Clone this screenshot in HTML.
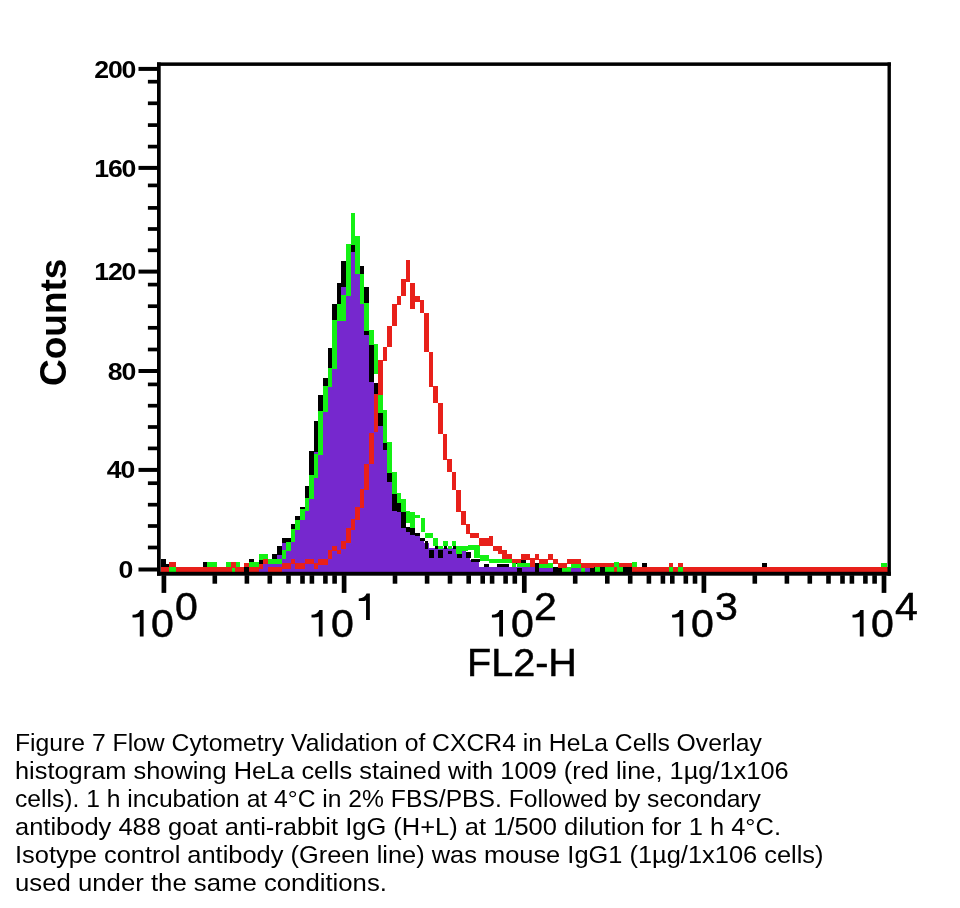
<!DOCTYPE html>
<html><head><meta charset="utf-8"><style>
*{margin:0;padding:0;box-sizing:border-box}
html,body{width:960px;height:908px;background:#fff;overflow:hidden}
body{position:relative;font-family:"Liberation Sans",sans-serif;color:#000}
svg{position:absolute;left:0;top:0}
.yl{position:absolute;filter:grayscale(1);right:824.5px;font-weight:bold;font-size:23.6px;line-height:28px;height:28px;white-space:nowrap;letter-spacing:-1.1px;transform-origin:100% 50%;transform:scaleX(1.13)}
.xg{position:absolute;font-size:38.4px;line-height:44px;white-space:nowrap;transform-origin:0 0;transform:scaleX(1.07);filter:grayscale(1);-webkit-text-stroke:0.5px #000}
.counts{position:absolute;left:35px;top:386.2px;filter:grayscale(1);transform-origin:0 0;transform:rotate(-90deg);font-weight:bold;font-size:37px;line-height:1;white-space:nowrap}
.fl2{position:absolute;left:467px;top:640.9px;font-size:38.4px;line-height:44px;white-space:nowrap;transform-origin:0 0;transform:scaleX(1.03);filter:grayscale(1);-webkit-text-stroke:0.5px #000}
.cap{position:absolute;font-size:24.2px;filter:grayscale(1);line-height:28px;white-space:nowrap;transform-origin:0 0}
</style></head><body>
<svg width="960" height="908" viewBox="0 0 960 908">
<rect x="161" y="567" width="727" height="5" fill="#000"/>
<rect x="259" y="564" width="4" height="8" fill="#7628CE"/>
<rect x="263" y="564" width="5" height="8" fill="#7628CE"/>
<rect x="268" y="562" width="4" height="10" fill="#7628CE"/>
<rect x="272" y="556" width="5" height="16" fill="#7628CE"/>
<rect x="277" y="548" width="5" height="24" fill="#7628CE"/>
<rect x="282" y="540" width="4" height="32" fill="#7628CE"/>
<rect x="286" y="540" width="5" height="32" fill="#7628CE"/>
<rect x="291" y="526" width="4" height="46" fill="#7628CE"/>
<rect x="295" y="518" width="5" height="54" fill="#7628CE"/>
<rect x="300" y="509" width="5" height="63" fill="#7628CE"/>
<rect x="305" y="490" width="4" height="82" fill="#7628CE"/>
<rect x="309" y="453" width="5" height="119" fill="#7628CE"/>
<rect x="314" y="423" width="4" height="149" fill="#7628CE"/>
<rect x="318" y="397" width="5" height="175" fill="#7628CE"/>
<rect x="323" y="380" width="5" height="192" fill="#7628CE"/>
<rect x="328" y="350" width="4" height="222" fill="#7628CE"/>
<rect x="332" y="306" width="5" height="266" fill="#7628CE"/>
<rect x="337" y="285" width="4" height="287" fill="#7628CE"/>
<rect x="341" y="263" width="5" height="309" fill="#7628CE"/>
<rect x="346" y="252" width="5" height="320" fill="#7628CE"/>
<rect x="351" y="246" width="4" height="326" fill="#7628CE"/>
<rect x="355" y="270" width="5" height="302" fill="#7628CE"/>
<rect x="360" y="268" width="4" height="304" fill="#7628CE"/>
<rect x="364" y="289" width="5" height="283" fill="#7628CE"/>
<rect x="369" y="336" width="5" height="236" fill="#7628CE"/>
<rect x="374" y="385" width="4" height="187" fill="#7628CE"/>
<rect x="378" y="414" width="5" height="158" fill="#7628CE"/>
<rect x="383" y="444" width="4" height="128" fill="#7628CE"/>
<rect x="387" y="473" width="5" height="99" fill="#7628CE"/>
<rect x="392" y="495" width="5" height="77" fill="#7628CE"/>
<rect x="397" y="503" width="4" height="69" fill="#7628CE"/>
<rect x="401" y="512" width="5" height="60" fill="#7628CE"/>
<rect x="406" y="529" width="4" height="43" fill="#7628CE"/>
<rect x="410" y="531" width="5" height="41" fill="#7628CE"/>
<rect x="415" y="535" width="5" height="37" fill="#7628CE"/>
<rect x="420" y="539" width="4" height="33" fill="#7628CE"/>
<rect x="424" y="543" width="5" height="29" fill="#7628CE"/>
<rect x="429" y="548" width="4" height="24" fill="#7628CE"/>
<rect x="433" y="548" width="5" height="24" fill="#7628CE"/>
<rect x="438" y="548" width="5" height="24" fill="#7628CE"/>
<rect x="443" y="548" width="4" height="24" fill="#7628CE"/>
<rect x="447" y="548" width="5" height="24" fill="#7628CE"/>
<rect x="452" y="548" width="4" height="24" fill="#7628CE"/>
<rect x="456" y="548" width="5" height="24" fill="#7628CE"/>
<rect x="461" y="548" width="5" height="24" fill="#7628CE"/>
<rect x="466" y="552" width="4" height="20" fill="#7628CE"/>
<rect x="470" y="560" width="5" height="12" fill="#7628CE"/>
<rect x="475" y="560" width="4" height="12" fill="#7628CE"/>
<rect x="479" y="567" width="5" height="5" fill="#7628CE"/>
<rect x="484" y="567" width="5" height="5" fill="#7628CE"/>
<rect x="489" y="567" width="4" height="5" fill="#7628CE"/>
<rect x="493" y="567" width="5" height="5" fill="#7628CE"/>
<rect x="498" y="567" width="4" height="5" fill="#7628CE"/>
<rect x="502" y="567" width="5" height="5" fill="#7628CE"/>
<rect x="507" y="567" width="5" height="5" fill="#7628CE"/>
<rect x="512" y="567" width="4" height="5" fill="#7628CE"/>
<rect x="516" y="567" width="5" height="5" fill="#7628CE"/>
<rect x="521" y="567" width="4" height="5" fill="#7628CE"/>
<rect x="525" y="567" width="5" height="5" fill="#7628CE"/>
<rect x="530" y="567" width="5" height="5" fill="#7628CE"/>
<rect x="539" y="567" width="5" height="5" fill="#7628CE"/>
<rect x="544" y="567" width="4" height="5" fill="#7628CE"/>
<rect x="548" y="567" width="5" height="5" fill="#7628CE"/>
<rect x="571" y="567" width="5" height="5" fill="#7628CE"/>
<rect x="576" y="567" width="5" height="5" fill="#7628CE"/>
<rect x="585" y="567" width="5" height="5" fill="#7628CE"/>
<rect x="245" y="568" width="4" height="4" fill="#000"/>
<rect x="249" y="559" width="5" height="5" fill="#000"/>
<rect x="259" y="559" width="4" height="5" fill="#000"/>
<rect x="272" y="554" width="5" height="5" fill="#000"/>
<rect x="277" y="546" width="5" height="9" fill="#000"/>
<rect x="282" y="538" width="9" height="5" fill="#000"/>
<rect x="291" y="524" width="4" height="6" fill="#000"/>
<rect x="295" y="516" width="5" height="5" fill="#000"/>
<rect x="300" y="507" width="5" height="4" fill="#000"/>
<rect x="305" y="486" width="4" height="13" fill="#000"/>
<rect x="309" y="451" width="5" height="25" fill="#000"/>
<rect x="314" y="421" width="4" height="31" fill="#000"/>
<rect x="318" y="395" width="5" height="17" fill="#000"/>
<rect x="323" y="378" width="5" height="9" fill="#000"/>
<rect x="328" y="348" width="4" height="21" fill="#000"/>
<rect x="332" y="304" width="5" height="17" fill="#000"/>
<rect x="337" y="283" width="4" height="21" fill="#000"/>
<rect x="341" y="261" width="5" height="26" fill="#000"/>
<rect x="346" y="250" width="5" height="6" fill="#000"/>
<rect x="351" y="244" width="4" height="8" fill="#000"/>
<rect x="355" y="268" width="5" height="6" fill="#000"/>
<rect x="360" y="266" width="4" height="8" fill="#000"/>
<rect x="364" y="287" width="5" height="48" fill="#000"/>
<rect x="369" y="334" width="5" height="48" fill="#000"/>
<rect x="374" y="383" width="4" height="12" fill="#000"/>
<rect x="378" y="412" width="5" height="14" fill="#000"/>
<rect x="383" y="442" width="4" height="8" fill="#000"/>
<rect x="387" y="471" width="5" height="11" fill="#000"/>
<rect x="392" y="493" width="5" height="18" fill="#000"/>
<rect x="397" y="501" width="4" height="11" fill="#000"/>
<rect x="401" y="510" width="5" height="18" fill="#000"/>
<rect x="406" y="527" width="4" height="5" fill="#000"/>
<rect x="410" y="528" width="5" height="7" fill="#000"/>
<rect x="415" y="533" width="5" height="3" fill="#000"/>
<rect x="420" y="538" width="5" height="3" fill="#000"/>
<rect x="425" y="541" width="3" height="8" fill="#000"/>
<rect x="429" y="550" width="5" height="8" fill="#000"/>
<rect x="435" y="546" width="3" height="3" fill="#000"/>
<rect x="438" y="550" width="5" height="8" fill="#000"/>
<rect x="444" y="546" width="3" height="3" fill="#000"/>
<rect x="448" y="551" width="4" height="3" fill="#000"/>
<rect x="453" y="546" width="3" height="3" fill="#000"/>
<rect x="457" y="554" width="5" height="4" fill="#000"/>
<rect x="462" y="546" width="4" height="3" fill="#000"/>
<rect x="466" y="552" width="5" height="6" fill="#000"/>
<rect x="471" y="559" width="9" height="3" fill="#000"/>
<rect x="484" y="564" width="5" height="3" fill="#000"/>
<rect x="497" y="564" width="12" height="3" fill="#000"/>
<rect x="513" y="560" width="13" height="4" fill="#000"/>
<rect x="517" y="568" width="5" height="4" fill="#000"/>
<rect x="535" y="563" width="4" height="9" fill="#000"/>
<rect x="553" y="567" width="9" height="5" fill="#000"/>
<rect x="161" y="559" width="5" height="5" fill="#000"/>
<rect x="161" y="564" width="8" height="3" fill="#000"/>
<rect x="203" y="562" width="4" height="5" fill="#000"/>
<rect x="249" y="559" width="5" height="3" fill="#000"/>
<rect x="245" y="568" width="4" height="4" fill="#000"/>
<rect x="642" y="563" width="5" height="4" fill="#000"/>
<rect x="762" y="563" width="5" height="4" fill="#000"/>
<rect x="623" y="567" width="9" height="5" fill="#000"/>
<rect x="208" y="562" width="9" height="6" fill="#14F014"/>
<rect x="226" y="562" width="14" height="6" fill="#14F014"/>
<rect x="249" y="562" width="10" height="7" fill="#14F014"/>
<rect x="259" y="554" width="9" height="6" fill="#14F014"/>
<rect x="268" y="559" width="14" height="5" fill="#14F014"/>
<rect x="282" y="550" width="4" height="9" fill="#14F014"/>
<rect x="286" y="542" width="5" height="9" fill="#14F014"/>
<rect x="291" y="529" width="4" height="13" fill="#14F014"/>
<rect x="295" y="520" width="5" height="10" fill="#14F014"/>
<rect x="300" y="509" width="5" height="11" fill="#14F014"/>
<rect x="305" y="498" width="4" height="13" fill="#14F014"/>
<rect x="309" y="475" width="5" height="24" fill="#14F014"/>
<rect x="314" y="454" width="4" height="24" fill="#14F014"/>
<rect x="318" y="411" width="5" height="44" fill="#14F014"/>
<rect x="323" y="386" width="5" height="26" fill="#14F014"/>
<rect x="328" y="368" width="4" height="19" fill="#14F014"/>
<rect x="332" y="320" width="5" height="49" fill="#14F014"/>
<rect x="337" y="304" width="4" height="17" fill="#14F014"/>
<rect x="341" y="295" width="5" height="26" fill="#14F014"/>
<rect x="346" y="244" width="5" height="52" fill="#14F014"/>
<rect x="351" y="213" width="4" height="32" fill="#14F014"/>
<rect x="355" y="236" width="5" height="38" fill="#14F014"/>
<rect x="360" y="274" width="4" height="30" fill="#14F014"/>
<rect x="364" y="303" width="5" height="28" fill="#14F014"/>
<rect x="369" y="330" width="5" height="15" fill="#14F014"/>
<rect x="374" y="344" width="4" height="30" fill="#14F014"/>
<rect x="378" y="373" width="5" height="40" fill="#14F014"/>
<rect x="383" y="410" width="4" height="33" fill="#14F014"/>
<rect x="387" y="442" width="5" height="31" fill="#14F014"/>
<rect x="392" y="472" width="5" height="22" fill="#14F014"/>
<rect x="397" y="493" width="4" height="10" fill="#14F014"/>
<rect x="401" y="499" width="5" height="13" fill="#14F014"/>
<rect x="406" y="511" width="4" height="12" fill="#14F014"/>
<rect x="539" y="563" width="14" height="5" fill="#14F014"/>
<rect x="562" y="567" width="9" height="6" fill="#14F014"/>
<rect x="571" y="563" width="10" height="5" fill="#14F014"/>
<rect x="581" y="567" width="4" height="6" fill="#14F014"/>
<rect x="410" y="512" width="5" height="16" fill="#14F014"/>
<rect x="415" y="515" width="5" height="3" fill="#14F014"/>
<rect x="421" y="518" width="4" height="14" fill="#14F014"/>
<rect x="425" y="533" width="8" height="5" fill="#14F014"/>
<rect x="433" y="538" width="5" height="8" fill="#14F014"/>
<rect x="438" y="546" width="5" height="3" fill="#14F014"/>
<rect x="443" y="541" width="5" height="5" fill="#14F014"/>
<rect x="448" y="546" width="4" height="3" fill="#14F014"/>
<rect x="452" y="541" width="4" height="5" fill="#14F014"/>
<rect x="456" y="546" width="6" height="8" fill="#14F014"/>
<rect x="462" y="546" width="6" height="5" fill="#14F014"/>
<rect x="468" y="545" width="6" height="5" fill="#14F014"/>
<rect x="474" y="545" width="6" height="13" fill="#14F014"/>
<rect x="480" y="555" width="9" height="6" fill="#14F014"/>
<rect x="489" y="559" width="23" height="4" fill="#14F014"/>
<rect x="512" y="563" width="4" height="4" fill="#14F014"/>
<rect x="517" y="563" width="13" height="4" fill="#14F014"/>
<rect x="539" y="563" width="14" height="4" fill="#14F014"/>
<rect x="562" y="567" width="9" height="5" fill="#14F014"/>
<rect x="571" y="563" width="10" height="4" fill="#14F014"/>
<rect x="581" y="567" width="4" height="5" fill="#14F014"/>
<rect x="169" y="567" width="7" height="5" fill="#14F014"/>
<rect x="207" y="562" width="10" height="5" fill="#14F014"/>
<rect x="226" y="563" width="13" height="4" fill="#14F014"/>
<rect x="231" y="567" width="4" height="5" fill="#14F014"/>
<rect x="614" y="563" width="4" height="4" fill="#14F014"/>
<rect x="632" y="563" width="5" height="4" fill="#14F014"/>
<rect x="595" y="567" width="5" height="5" fill="#14F014"/>
<rect x="605" y="567" width="9" height="5" fill="#14F014"/>
<rect x="617" y="567" width="6" height="5" fill="#14F014"/>
<rect x="669" y="567" width="5" height="5" fill="#14F014"/>
<rect x="678" y="567" width="6" height="5" fill="#14F014"/>
<rect x="881" y="563" width="6" height="4" fill="#14F014"/>
<rect x="231" y="562" width="5" height="6" fill="#E8201A"/>
<rect x="259" y="564" width="4" height="5" fill="#E8201A"/>
<rect x="263" y="559" width="5" height="5" fill="#E8201A"/>
<rect x="282" y="563" width="9" height="6" fill="#E8201A"/>
<rect x="291" y="559" width="4" height="5" fill="#E8201A"/>
<rect x="295" y="563" width="10" height="6" fill="#E8201A"/>
<rect x="305" y="559" width="9" height="5" fill="#E8201A"/>
<rect x="314" y="563" width="4" height="6" fill="#E8201A"/>
<rect x="318" y="559" width="10" height="6" fill="#E8201A"/>
<rect x="328" y="550" width="4" height="9" fill="#E8201A"/>
<rect x="332" y="546" width="5" height="5" fill="#E8201A"/>
<rect x="337" y="550" width="4" height="4" fill="#E8201A"/>
<rect x="341" y="541" width="5" height="8" fill="#E8201A"/>
<rect x="346" y="528" width="5" height="15" fill="#E8201A"/>
<rect x="351" y="519" width="4" height="11" fill="#E8201A"/>
<rect x="355" y="507" width="5" height="13" fill="#E8201A"/>
<rect x="360" y="489" width="4" height="19" fill="#E8201A"/>
<rect x="364" y="464" width="5" height="26" fill="#E8201A"/>
<rect x="369" y="433" width="5" height="31" fill="#E8201A"/>
<rect x="374" y="394" width="4" height="38" fill="#E8201A"/>
<rect x="378" y="360" width="5" height="35" fill="#E8201A"/>
<rect x="383" y="347" width="4" height="14" fill="#E8201A"/>
<rect x="387" y="326" width="5" height="21" fill="#E8201A"/>
<rect x="392" y="304" width="5" height="22" fill="#E8201A"/>
<rect x="397" y="296" width="4" height="9" fill="#E8201A"/>
<rect x="401" y="279" width="5" height="17" fill="#E8201A"/>
<rect x="406" y="260" width="4" height="22" fill="#E8201A"/>
<rect x="410" y="283" width="5" height="26" fill="#E8201A"/>
<rect x="415" y="296" width="5" height="6" fill="#E8201A"/>
<rect x="420" y="300" width="4" height="13" fill="#E8201A"/>
<rect x="424" y="313" width="5" height="39" fill="#E8201A"/>
<rect x="429" y="352" width="4" height="35" fill="#E8201A"/>
<rect x="433" y="386" width="5" height="17" fill="#E8201A"/>
<rect x="438" y="403" width="5" height="31" fill="#E8201A"/>
<rect x="443" y="434" width="4" height="26" fill="#E8201A"/>
<rect x="447" y="459" width="5" height="13" fill="#E8201A"/>
<rect x="452" y="472" width="4" height="18" fill="#E8201A"/>
<rect x="456" y="490" width="5" height="22" fill="#E8201A"/>
<rect x="461" y="511" width="5" height="14" fill="#E8201A"/>
<rect x="466" y="524" width="4" height="10" fill="#E8201A"/>
<rect x="470" y="533" width="9" height="5" fill="#E8201A"/>
<rect x="479" y="538" width="10" height="8" fill="#E8201A"/>
<rect x="489" y="536" width="4" height="10" fill="#E8201A"/>
<rect x="493" y="546" width="5" height="5" fill="#E8201A"/>
<rect x="498" y="546" width="4" height="8" fill="#E8201A"/>
<rect x="502" y="550" width="5" height="9" fill="#E8201A"/>
<rect x="507" y="554" width="5" height="5" fill="#E8201A"/>
<rect x="512" y="559" width="9" height="4" fill="#E8201A"/>
<rect x="521" y="554" width="9" height="6" fill="#E8201A"/>
<rect x="530" y="558" width="5" height="9" fill="#E8201A"/>
<rect x="535" y="554" width="4" height="6" fill="#E8201A"/>
<rect x="539" y="559" width="9" height="5" fill="#E8201A"/>
<rect x="548" y="554" width="5" height="6" fill="#E8201A"/>
<rect x="553" y="559" width="5" height="5" fill="#E8201A"/>
<rect x="558" y="563" width="9" height="5" fill="#E8201A"/>
<rect x="567" y="559" width="14" height="5" fill="#E8201A"/>
<rect x="581" y="563" width="13" height="5" fill="#E8201A"/>
<rect x="161" y="567" width="8" height="5" fill="#E8201A"/>
<rect x="176" y="567" width="56" height="5" fill="#E8201A"/>
<rect x="235" y="567" width="9" height="5" fill="#E8201A"/>
<rect x="249" y="567" width="10" height="5" fill="#E8201A"/>
<rect x="268" y="567" width="14" height="5" fill="#E8201A"/>
<rect x="169" y="562" width="7" height="5" fill="#E8201A"/>
<rect x="232" y="563" width="3" height="4" fill="#E8201A"/>
<rect x="244" y="563" width="5" height="4" fill="#E8201A"/>
<rect x="594" y="563" width="38" height="4" fill="#E8201A"/>
<rect x="632" y="567" width="37" height="5" fill="#E8201A"/>
<rect x="614" y="567" width="3" height="5" fill="#E8201A"/>
<rect x="669" y="563" width="4" height="4" fill="#E8201A"/>
<rect x="673" y="567" width="5" height="5" fill="#E8201A"/>
<rect x="678" y="563" width="5" height="4" fill="#E8201A"/>
<rect x="683" y="567" width="205" height="5" fill="#E8201A"/>
<rect x="614" y="562" width="5" height="5" fill="#14F014"/>
<rect x="632" y="562" width="5" height="5" fill="#14F014"/>
<rect x="157.00" y="62.40" width="733.90" height="3.50" fill="#000"/>
<rect x="157.00" y="62.40" width="3.70" height="513.30" fill="#000"/>
<rect x="887.50" y="62.40" width="3.40" height="513.30" fill="#000"/>
<rect x="157.00" y="571.80" width="733.90" height="3.90" fill="#000"/>
<rect x="138.50" y="66.90" width="19.00" height="4.00" fill="#000"/>
<rect x="138.50" y="165.90" width="19.00" height="4.00" fill="#000"/>
<rect x="138.50" y="269.60" width="19.00" height="4.00" fill="#000"/>
<rect x="138.50" y="369.00" width="19.00" height="4.00" fill="#000"/>
<rect x="138.50" y="467.90" width="19.00" height="4.00" fill="#000"/>
<rect x="138.50" y="567.50" width="19.00" height="4.00" fill="#000"/>
<rect x="147.90" y="79.85" width="9.60" height="3.70" fill="#000"/>
<rect x="147.90" y="101.45" width="9.60" height="3.70" fill="#000"/>
<rect x="147.90" y="123.25" width="9.60" height="3.70" fill="#000"/>
<rect x="147.90" y="144.75" width="9.60" height="3.70" fill="#000"/>
<rect x="147.90" y="183.55" width="9.60" height="3.70" fill="#000"/>
<rect x="147.90" y="206.05" width="9.60" height="3.70" fill="#000"/>
<rect x="147.90" y="227.15" width="9.60" height="3.70" fill="#000"/>
<rect x="147.90" y="248.45" width="9.60" height="3.70" fill="#000"/>
<rect x="147.90" y="282.75" width="9.60" height="3.70" fill="#000"/>
<rect x="147.90" y="304.35" width="9.60" height="3.70" fill="#000"/>
<rect x="147.90" y="325.95" width="9.60" height="3.70" fill="#000"/>
<rect x="147.90" y="347.65" width="9.60" height="3.70" fill="#000"/>
<rect x="147.90" y="382.55" width="9.60" height="3.70" fill="#000"/>
<rect x="147.90" y="403.85" width="9.60" height="3.70" fill="#000"/>
<rect x="147.90" y="425.15" width="9.60" height="3.70" fill="#000"/>
<rect x="147.90" y="446.55" width="9.60" height="3.70" fill="#000"/>
<rect x="147.90" y="481.35" width="9.60" height="3.70" fill="#000"/>
<rect x="147.90" y="502.85" width="9.60" height="3.70" fill="#000"/>
<rect x="147.90" y="524.15" width="9.60" height="3.70" fill="#000"/>
<rect x="147.90" y="545.65" width="9.60" height="3.70" fill="#000"/>
<rect x="161.55" y="575.20" width="4.70" height="17.70" fill="#000"/>
<rect x="212.50" y="575.20" width="4.60" height="8.50" fill="#000"/>
<rect x="244.60" y="575.20" width="4.60" height="8.50" fill="#000"/>
<rect x="267.50" y="575.20" width="4.60" height="8.50" fill="#000"/>
<rect x="286.20" y="575.20" width="4.60" height="8.50" fill="#000"/>
<rect x="300.20" y="575.20" width="4.60" height="8.50" fill="#000"/>
<rect x="309.60" y="575.20" width="4.60" height="8.50" fill="#000"/>
<rect x="323.10" y="575.20" width="4.60" height="8.50" fill="#000"/>
<rect x="332.30" y="575.20" width="4.60" height="8.50" fill="#000"/>
<rect x="341.75" y="575.20" width="4.70" height="17.70" fill="#000"/>
<rect x="392.70" y="575.20" width="4.60" height="8.50" fill="#000"/>
<rect x="424.80" y="575.20" width="4.60" height="8.50" fill="#000"/>
<rect x="447.70" y="575.20" width="4.60" height="8.50" fill="#000"/>
<rect x="466.40" y="575.20" width="4.60" height="8.50" fill="#000"/>
<rect x="480.40" y="575.20" width="4.60" height="8.50" fill="#000"/>
<rect x="489.80" y="575.20" width="4.60" height="8.50" fill="#000"/>
<rect x="503.30" y="575.20" width="4.60" height="8.50" fill="#000"/>
<rect x="512.50" y="575.20" width="4.60" height="8.50" fill="#000"/>
<rect x="521.95" y="575.20" width="4.70" height="17.70" fill="#000"/>
<rect x="572.90" y="575.20" width="4.60" height="8.50" fill="#000"/>
<rect x="605.00" y="575.20" width="4.60" height="8.50" fill="#000"/>
<rect x="627.90" y="575.20" width="4.60" height="8.50" fill="#000"/>
<rect x="646.60" y="575.20" width="4.60" height="8.50" fill="#000"/>
<rect x="660.60" y="575.20" width="4.60" height="8.50" fill="#000"/>
<rect x="670.00" y="575.20" width="4.60" height="8.50" fill="#000"/>
<rect x="683.50" y="575.20" width="4.60" height="8.50" fill="#000"/>
<rect x="692.70" y="575.20" width="4.60" height="8.50" fill="#000"/>
<rect x="701.55" y="575.20" width="4.70" height="17.70" fill="#000"/>
<rect x="752.50" y="575.20" width="4.60" height="8.50" fill="#000"/>
<rect x="784.60" y="575.20" width="4.60" height="8.50" fill="#000"/>
<rect x="807.50" y="575.20" width="4.60" height="8.50" fill="#000"/>
<rect x="826.20" y="575.20" width="4.60" height="8.50" fill="#000"/>
<rect x="840.20" y="575.20" width="4.60" height="8.50" fill="#000"/>
<rect x="849.60" y="575.20" width="4.60" height="8.50" fill="#000"/>
<rect x="863.10" y="575.20" width="4.60" height="8.50" fill="#000"/>
<rect x="872.30" y="575.20" width="4.60" height="8.50" fill="#000"/>
<rect x="881.65" y="575.20" width="4.70" height="17.70" fill="#000"/>
<path fill="#000" d="M143.60,610.00 L143.60,636.40 L139.80,636.40 L139.80,616.60 C138.10,617.80 135.30,617.50 132.50,617.40 L132.50,614.80 C136.70,614.60 139.10,613.20 140.30,610.00 Z M322.60,610.00 L322.60,636.40 L318.80,636.40 L318.80,616.60 C317.10,617.80 314.30,617.50 311.50,617.40 L311.50,614.80 C315.70,614.60 318.10,613.20 319.30,610.00 Z M369.85,593.60 L369.85,620.00 L366.05,620.00 L366.05,600.20 C364.35,601.40 361.55,601.10 358.75,601.00 L358.75,598.40 C362.95,598.20 365.35,596.80 366.55,593.60 Z M503.00,610.00 L503.00,636.40 L499.20,636.40 L499.20,616.60 C497.50,617.80 494.70,617.50 491.90,617.40 L491.90,614.80 C496.10,614.60 498.50,613.20 499.70,610.00 Z M683.20,610.00 L683.20,636.40 L679.40,636.40 L679.40,616.60 C677.70,617.80 674.90,617.50 672.10,617.40 L672.10,614.80 C676.30,614.60 678.70,613.20 679.90,610.00 Z M863.60,610.00 L863.60,636.40 L859.80,636.40 L859.80,616.60 C858.10,617.80 855.30,617.50 852.50,617.40 L852.50,614.80 C856.70,614.60 859.10,613.20 860.30,610.00 Z"/>
</svg>
<div class="yl" style="top:55.6px;margin-right:0px">200</div>
<div class="yl" style="top:154.6px;margin-right:0px">160</div>
<div class="yl" style="top:258.3px;margin-right:0px">120</div>
<div class="yl" style="top:357.7px;margin-right:0.5px">80</div>
<div class="yl" style="top:455.6px;margin-right:1px">40</div>
<div class="yl" style="top:556.2px;margin-right:3px">0</div>
<div class="counts">Counts</div>
<div class="xg" style="left:150.96px;top:601.9px">0</div>
<div class="xg" style="left:174.76px;top:585.4px">0</div>
<div class="xg" style="left:330.61px;top:601.9px">0</div>
<div class="xg" style="left:510.61px;top:601.9px">0</div>
<div class="xg" style="left:534.36px;top:585.4px">2</div>
<div class="xg" style="left:691.36px;top:601.9px">0</div>
<div class="xg" style="left:714.76px;top:585.4px">3</div>
<div class="xg" style="left:871.36px;top:601.9px">0</div>
<div class="xg" style="left:894.93px;top:585.4px">4</div>

<div class="fl2">FL2-H</div>
<div class="cap" style="top:729.0px;left:15.06px;transform:scaleX(1.0218)">Figure 7 Flow Cytometry Validation of CXCR4 in HeLa Cells Overlay</div>
<div class="cap" style="top:757.0px;left:14.80px;transform:scaleX(1.0493)">histogram showing HeLa cells stained with 1009 (red line, 1µg/1x106</div>
<div class="cap" style="top:785.0px;left:14.68px;transform:scaleX(1.0195)">cells). 1 h incubation at 4°C in 2% FBS/PBS. Followed by secondary</div>
<div class="cap" style="top:813.0px;left:14.95px;transform:scaleX(1.0537)">antibody 488 goat anti-rabbit IgG (H+L) at 1/500 dilution for 1 h 4°C.</div>
<div class="cap" style="top:841.0px;left:15.20px;transform:scaleX(1.0507)">Isotype control antibody (Green line) was mouse IgG1 (1µg/1x106 cells)</div>
<div class="cap" style="top:869.0px;left:14.77px;transform:scaleX(1.0639)">used under the same conditions.</div>
</body></html>
